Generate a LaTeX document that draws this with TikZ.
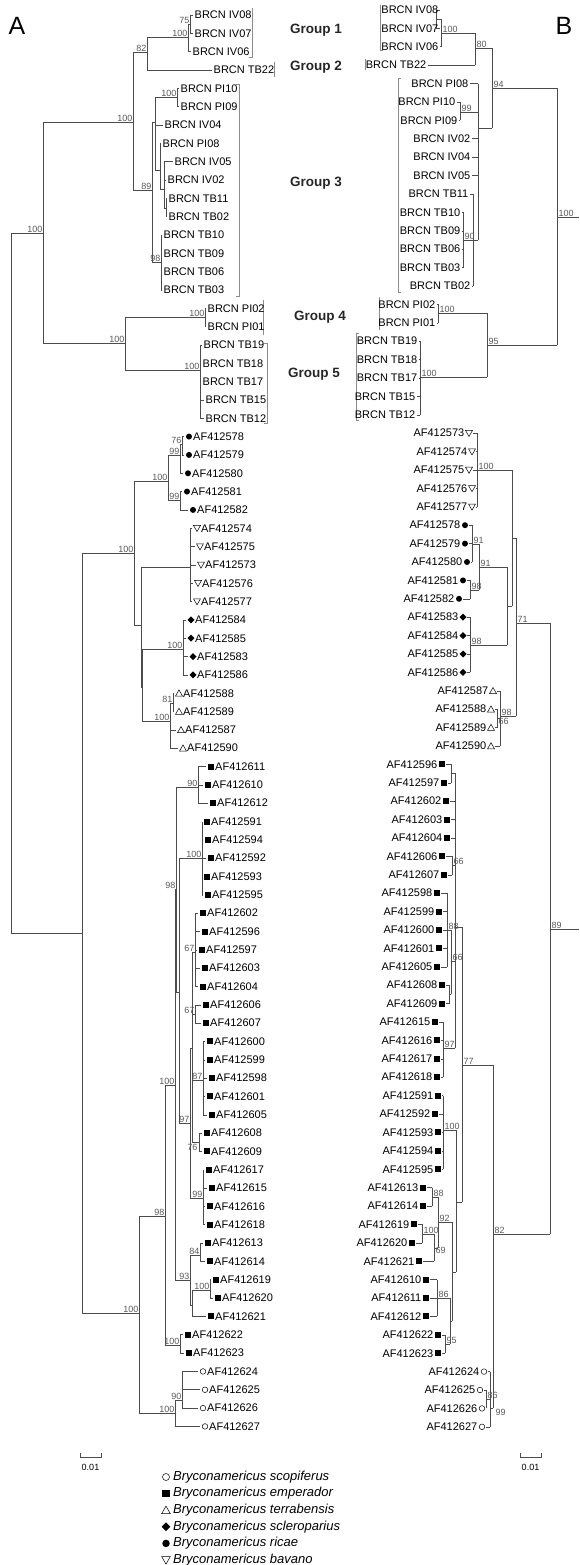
\documentclass[tikz,border=0pt]{standalone}
\usepackage{fontspec}
\setmainfont{Liberation Sans}
\tikzset{
  br/.style={draw=black!70,line width=0.6pt},
  grpbar/.style={draw=black!45,line width=0.5pt},
  taxon/.style={inner sep=0pt,font=\fontsize{11}{11}\selectfont},
  boot/.style={inner sep=0.5pt,text=black!65,font=\fontsize{9}{9}\selectfont},
  grp/.style={inner sep=0pt,text=black!85,font=\fontsize{13.5}{13.5}\selectfont\bfseries},
  panel/.style={inner sep=0pt,font=\fontsize{25}{25}\selectfont},
  spec/.style={inner sep=0pt,anchor=west,font=\fontsize{13}{13}\selectfont\itshape},
}
% tip symbols
\newcommand{\mkno}[2]{}
\newcommand{\mkfc}[2]{\fill (#1,#2) circle (3);}
\newcommand{\mkoc}[2]{\draw[line width=0.5pt] (#1,#2) circle (2.8);}
\newcommand{\mksq}[2]{\fill (#1-3,#2-3) rectangle (#1+3,#2+3);}
\newcommand{\mkdm}[2]{\fill (#1-3.5,#2)--(#1,#2-3.5)--(#1+3.5,#2)--(#1,#2+3.5)--cycle;}
\newcommand{\mkup}[2]{\draw[line width=0.5pt] (#1-3.5,#2+2.8)--(#1+3.5,#2+2.8)--(#1,#2-3.3)--cycle;}
\newcommand{\mkdn}[2]{\draw[line width=0.5pt] (#1-3.5,#2-2.8)--(#1+3.5,#2-2.8)--(#1,#2+3.3)--cycle;}
\begin{document}
\begin{tikzpicture}[x=1pt,y=-1pt]
\useasboundingbox (0,0) rectangle (579,1565);

\node[panel] at (17,26) {A};
\node[panel] at (564,26) {B};

% group names
\node[grp] at (316,30) {Group 1};
\node[grp] at (316,67) {Group 2};
\node[grp] at (316,183) {Group 3};
\node[grp] at (320,317) {Group 4};
\node[grp] at (314,374) {Group 5};

% group bars, tree A
\draw[grpbar] (249,57)--(252,57)--(252,8);
\draw[grpbar] (274,62)--(274,77);
\draw[grpbar] (236,84)--(239,84)--(239,296)--(236,296);
\draw[grpbar] (263,300)--(263,335);
\draw[grpbar] (264,343)--(267,343)--(267,423)--(264,423);
% group bars, tree B
\draw[grpbar] (380,5)--(380,50)--(383,50);
\draw[grpbar] (365,59)--(365,70);
\draw[grpbar] (401,78)--(398,78)--(398,292)--(401,292);
\draw[grpbar] (379,297)--(379,330);
\draw[grpbar] (359,333)--(356,333)--(356,420)--(359,420);

%%% tree A
\draw[br] (11,233)--(11,933);
% parent/node/stem y/from/to
\foreach \a/\b/\y/\c/\d in {11/43/233/122/343, 43/133/122/52/190, 133/147/52/37/70,
  147/188/37/24/51.7, 188/190/24/15/33.4, 133/152/190/122/262, 152/155/122/97/170,
  155/177/97/88.4/106.8, 155/160/170/143.5/189, 160/164/189/161.8/208,
  164/166/208/198.5/216.9, 152/161/262/235.2/290.3, 43/125/343/317/370,
  125/205/317/308.6/327, 125/200/370/345.3/418.7,
  11/82/933/553/1313, 82/134/553/481/625, 134/168/481/455/500, 168/180/455/444/473.3,
  180/182/444/436.6/454.9, 168/180/500/491.6/509.9, 134/141/625/567/687,
  141/190/567/528.2/601.6, 141/142/687/649/721, 142/183/649/619.9/674.9,
  142/170/721/703/748.2, 170/173/703/693.2/711.5,
  82/139/1313/1216/1413, 139/165/1216/1085/1345, 165/175/1085/889/1280,
  175/176/889/787/992, 176/198/787/766.5/803.2, 176/179/992/858/1123,
  179/202/858/821.5/894.8, 179/190/1123/1048/1198, 190/192/1048/952/1142,
  192/195/952/913.2/986.5, 192/195/1014/1004.8/1023.2, 192/203/1080/1041.5/1114.8,
  192/199/1142/1133.1/1151.5, 190/203/1198/1169.8/1224.8, 175/190/1280/1255/1305,
  190/200/1255/1243.1/1261.4, 190/192/1305/1290/1316.4, 192/210/1290/1279.8/1298.1,
  165/180/1345/1334.8/1353.1, 139/175/1413/1400/1426.4, 175/182/1400/1371.4/1408.1}{
  \draw[br] (\a,\y)--(\b,\y) (\b,\c)--(\b,\d);
}
\foreach \p/\t/\s [count=\i from 0] in {190/193/BRCN IV08, 190/193/BRCN IV07,
  188/191/BRCN IV06, 147/212/BRCN TB22, 177/179/BRCN PI10, 177/179/BRCN PI09,
  155/163/BRCN IV04, 160/161/BRCN PI08, 164/173/BRCN IV05, 164/166/BRCN IV02,
  166/167/BRCN TB11, 166/167/BRCN TB02, 161/162/BRCN TB10, 161/162/BRCN TB09,
  161/162/BRCN TB06, 161/162/BRCN TB03, 205/206/BRCN PI02, 205/206/BRCN PI01,
  200/202/BRCN TB19, 200/201/BRCN TB18, 200/201/BRCN TB17, 200/204/BRCN TB15,
  200/204/BRCN TB12}{
  \pgfmathsetmacro\yy{15+18.33*\i}
  \draw[br] (\p,\yy)--(\t,\yy);
  \node[taxon,anchor=west] at (\t+1.5,\yy) {\s};
}
\foreach \p/\t/\m/\s [count=\i from 23] in {182/184/fc/AF412578, 182/184/fc/AF412579,
  180/183/fc/AF412580, 180/182/fc/AF412581, 180/188/fc/AF412582,
  190/192/dn/AF412574, 190/195/dn/AF412575, 190/196/dn/AF412573, 190/193/dn/AF412576,
  190/192/dn/AF412577, 183/186/dm/AF412584, 183/186/dm/AF412585, 183/188/dm/AF412583,
  183/188/dm/AF412586, 173/174/up/AF412588, 173/174/up/AF412589, 170/176/up/AF412587,
  170/178/up/AF412590, 198/206/sq/AF412611, 198/203/sq/AF412610, 198/208/sq/AF412612,
  202/202/sq/AF412591, 202/203/sq/AF412594, 202/206/sq/AF412592, 202/202/sq/AF412593,
  202/203/sq/AF412595, 195/198/sq/AF412602, 195/200/sq/AF412596, 195/197/sq/AF412597,
  195/200/sq/AF412603, 195/198/sq/AF412604, 195/201/sq/AF412606, 195/201/sq/AF412607,
  203/205/sq/AF412600, 203/205/sq/AF412599, 203/207/sq/AF412598, 203/205/sq/AF412601,
  203/207/sq/AF412605, 199/202/sq/AF412608, 199/202/sq/AF412609, 203/204/sq/AF412617,
  203/207/sq/AF412615, 203/205/sq/AF412616, 203/205/sq/AF412618, 200/203/sq/AF412613,
  200/205/sq/AF412614, 210/211/sq/AF412619, 210/213/sq/AF412620, 192/206/sq/AF412621,
  180/183/sq/AF412622, 180/184/sq/AF412623, 182/198/oc/AF412624, 182/200/oc/AF412625,
  182/198/oc/AF412626, 175/200/oc/AF412627}{
  \pgfmathsetmacro\yy{15+18.33*\i}
  \draw[br] (\p,\yy)--(\t,\yy);
  \csname mk\m\endcsname{\t+5}{\yy}
  \node[taxon,anchor=west] at (\t+9,\yy) {\s};
}
\foreach \x/\y/\v in {43/233/100, 133/122/100, 147/52/82, 188/37/100, 190/24/75,
  177/97/100, 152/190/89, 161/262/98, 205/317/100, 125/343/100, 200/370/100,
  134/553/100, 168/481/100, 180/455/99, 182/444/76, 180/500/99, 183/649/100,
  170/721/100, 173/703/81, 198/787/90, 202/858/100, 176/889/98, 175/1085/100,
  165/1216/98, 190/1123/97, 195/952/67, 195/1014/67, 203/1080/87, 203/1198/99,
  190/1280/93, 200/1255/84, 210/1290/100, 180/1345/100, 139/1313/100,
  182/1400/90, 175/1413/100}{
  \node[boot,anchor=south east] at (\x,\y) {\v};
}
\node[boot,anchor=north east] at (198,1144) {76};

%%% tree B
\foreach \a/\b/\y/\c/\d in {579/557/217/88/345, 557/492/88/48/128, 492/475/48/33/65.2,
  475/441/33/19/46.8, 441/436/19/10/28.4, 492/478/128/83.6/240, 478/460/112/102/120.4,
  478/473/240/194/286, 473/463/240/212.4/267.6, 557/487/345/313/377,
  487/438/313/304.4/322.8, 487/420/377/341.2/414.8,
  579/550/929/623/1234, 550/516/623/538/716, 516/512/538/470/606,
  512/477/470/433.2/506.8, 512/507/606/567/645, 507/479/567/544/590,
  479/472/544/525.2/562, 479/470/590/580.4/598.8, 507/470/645/617.2/672.4,
  516/500/716/690.8/746, 500/497/718/709.2/727.6, 550/493/1234/1065/1408,
  493/462/1065/927/1202, 462/455/927/773/1048, 455/451/773/764.4/782.8,
  455/452/865/856.4/874.8, 455/451/961/930/994, 451/447/930/893.2/966.8,
  451/449/994/985.2/1003.6, 455/443/1048/1022/1077.2, 462/456/1202/1130/1272,
  456/443/1130/1095.6/1169.2, 456/452/1272/1222/1321, 452/438/1222/1197/1248,
  438/432/1197/1187.6/1206, 438/434/1248/1234/1261.2, 434/422/1234/1224.4/1242.8,
  452/450/1321/1298/1344, 450/437/1298/1279.6/1316.4, 450/445/1344/1334.8/1353.2,
  493/490/1408/1371.6/1426.8, 490/486/1399/1390/1408.4}{
  \draw[br] (\a,\y)--(\b,\y) (\b,\c)--(\b,\d);
}
\foreach \p/\t/\s [count=\i from 0] in {436/440/BRCN IV08, 436/440/BRCN IV07,
  441/440/BRCN IV06, 475/428/BRCN TB22, 478/470/BRCN PI08, 460/457/BRCN PI10,
  460/459/BRCN PI09, 478/472/BRCN IV02, 478/472/BRCN IV04, 478/472/BRCN IV05,
  473/470/BRCN TB11, 463/462/BRCN TB10, 463/462/BRCN TB09, 463/462/BRCN TB06,
  463/462/BRCN TB03, 473/472/BRCN TB02, 438/437/BRCN PI02, 438/437/BRCN PI01,
  420/419/BRCN TB19, 420/419/BRCN TB18, 420/419/BRCN TB17, 420/417/BRCN TB15,
  420/417/BRCN TB12}{
  \pgfmathsetmacro\yy{10+18.4*\i}
  \draw[br] (\p,\yy)--(\t,\yy);
  \node[taxon,anchor=east] at (\t-1.5,\yy) {\s};
}
\foreach \p/\t/\m/\s [count=\i from 23] in {477/473/dn/AF412573, 477/476/dn/AF412574,
  477/473/dn/AF412575, 477/476/dn/AF412576, 477/476/dn/AF412577, 472/469/fc/AF412578,
  472/469/fc/AF412579, 472/471/fc/AF412580, 470/467/fc/AF412581, 470/463/fc/AF412582,
  470/467/dm/AF412583, 470/467/dm/AF412584, 470/467/dm/AF412585, 470/467/dm/AF412586,
  500/497/up/AF412587, 497/495/up/AF412588, 497/495/up/AF412589, 500/495/up/AF412590,
  451/446/sq/AF412596, 451/448/sq/AF412597, 455/450/sq/AF412602, 455/451/sq/AF412603,
  455/451/sq/AF412604, 452/446/sq/AF412606, 452/448/sq/AF412607, 447/441/sq/AF412598,
  447/443/sq/AF412599, 447/443/sq/AF412600, 447/443/sq/AF412601, 447/441/sq/AF412605,
  449/446/sq/AF412608, 449/446/sq/AF412609, 443/439/sq/AF412615, 443/441/sq/AF412616,
  443/441/sq/AF412617, 443/441/sq/AF412618, 443/442/sq/AF412591, 443/439/sq/AF412592,
  443/442/sq/AF412593, 443/442/sq/AF412594, 443/442/sq/AF412595, 432/427/sq/AF412613,
  432/427/sq/AF412614, 422/418/sq/AF412619, 422/416/sq/AF412620, 434/423/sq/AF412621,
  437/430/sq/AF412610, 437/430/sq/AF412611, 437/430/sq/AF412612, 445/442/sq/AF412622,
  445/442/sq/AF412623, 490/488/oc/AF412624, 486/484/oc/AF412625, 486/486/oc/AF412626,
  490/486/oc/AF412627}{
  \pgfmathsetmacro\yy{10+18.4*\i}
  \draw[br] (\p,\yy)--(\t,\yy);
  \csname mk\m\endcsname{\t-4}{\yy}
  \node[taxon,anchor=east] at (\t-8.5,\yy) {\s};
}
\foreach \x/\y/\v in {441/33/100, 475/48/80, 492/88/94, 557/217/100, 460/112/99,
  463/240/90, 438/313/100, 487/345/95, 420/377/100, 477/470/100, 472/544/91,
  470/590/98, 479/567/91, 470/645/98, 500/716/98, 516/623/71, 550/929/89,
  452/865/66, 447/930/88, 451/961/66, 443/1048/97, 462/1065/77, 443/1130/100,
  438/1222/92, 432/1197/88, 422/1234/100, 437/1298/86, 445/1344/95, 493/1234/82,
  486/1399/86}{
  \node[boot,anchor=south west] at (\x+1,\y) {\v};
}
\node[boot,anchor=north west] at (498,718) {66};
\node[boot,anchor=north west] at (435,1247) {69};
\node[boot,anchor=north west] at (495,1408) {99};

% scale bars
\draw[br] (80,1453)--(80,1457)--(101,1457)--(101,1453);
\node[boot,text=black] at (90.5,1467) {0.01};
\draw[br] (520,1453)--(520,1457)--(541,1457)--(541,1453);
\node[boot,text=black] at (530.5,1467) {0.01};

% species key
\foreach \m/\s [count=\k from 0] in {oc/scopiferus, sq/emperador, up/terrabensis,
  dm/scleroparius, fc/ricae, dn/bavano}{
  \pgfmathsetmacro\ly{1477+16.6*\k}
  \begin{scope}[shift={(166,\ly)},scale=1.25]
    \csname mk\m\endcsname{0}{0}
  \end{scope}
  \node[spec] at (173,\ly) {Bryconamericus \s};
}
\end{tikzpicture}
\end{document}
